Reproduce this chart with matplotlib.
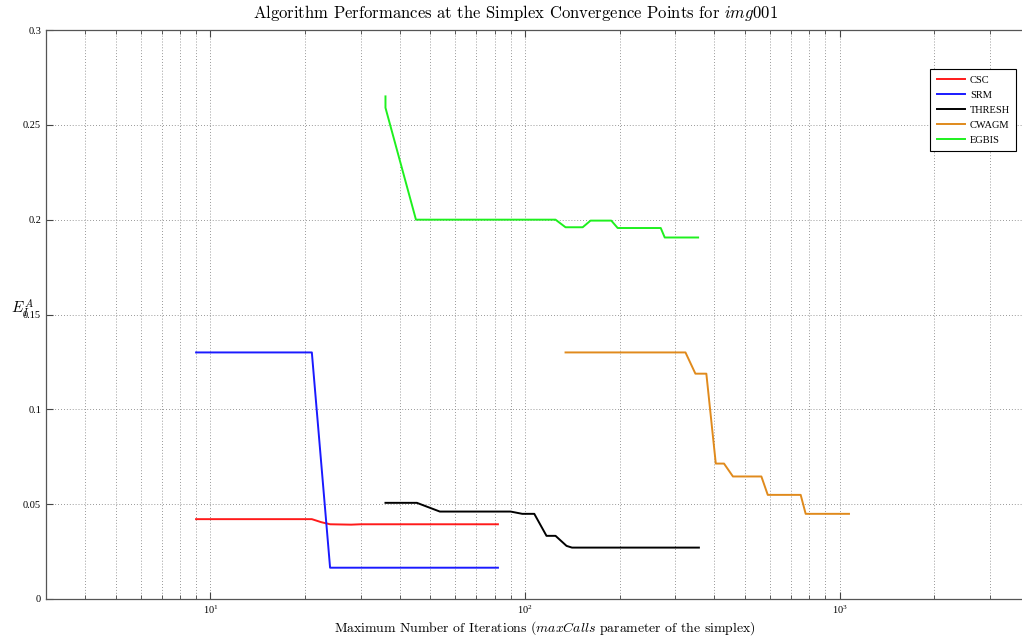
import numpy as np
import matplotlib
matplotlib.use('Agg')
import matplotlib.pyplot as plt
from matplotlib.ticker import FixedLocator, FuncFormatter, LogLocator

plt.rcParams['mathtext.fontset'] = 'cm'

# maxCalls values and E_I^A error at each convergence point
csc_x = [9, 21, 22.5, 24, 28, 30, 82]
csc_y = [0.0421, 0.0421, 0.0405, 0.0394, 0.0392, 0.0394, 0.0394]

srm_x = [9, 21, 24, 82]
srm_y = [0.130, 0.130, 0.0165, 0.0165]

thresh_x = [36, 45.3, 53.6, 90, 98, 107, 117, 125, 135.5, 141, 357]
thresh_y = [0.0507, 0.0507, 0.0461, 0.0461, 0.0449, 0.0449, 0.0333, 0.0333,
            0.0280, 0.0271, 0.0271]

cwagm_x = [134.5, 323.6, 348, 377, 404, 429, 458, 564, 591, 752, 780, 1071]
cwagm_y = [0.130, 0.130, 0.1188, 0.1188, 0.0714, 0.0714, 0.0646, 0.0646,
           0.0549, 0.0549, 0.0449, 0.0449]

egbis_x = [36, 36, 45, 125, 134.5, 152.5, 161.5, 188, 197, 270, 278, 355]
egbis_y = [0.265, 0.259, 0.200, 0.200, 0.196, 0.196, 0.1995, 0.1995,
           0.1956, 0.1956, 0.1906, 0.1906]

names = ['CSC', 'SRM', 'THRESH', 'CWAGM', 'EGBIS']
colors = ['#ff1a1a', '#1a1aff', '#000000', '#e08a1c', '#1ef01e']
y_ticks = [0, 0.05, 0.1, 0.15, 0.2, 0.25, 0.3]

fig = plt.figure(figsize=(10.22, 6.41), dpi=100)
ax = fig.add_axes([46 / 1022, 42 / 641, 983 / 1022, 569 / 641])

series = [(csc_x, csc_y), (srm_x, srm_y), (thresh_x, thresh_y),
          (cwagm_x, cwagm_y), (egbis_x, egbis_y)]
for (xs, ys), name, c in zip(series, names, colors):
    ax.semilogx(xs, ys, '-', color=c, linewidth=1.4, label=name)

ax.set_xlim(3, 4000)
ax.set_ylim(0, 0.3)

ax.yaxis.set_major_locator(FixedLocator(y_ticks))
ax.yaxis.set_major_formatter(FuncFormatter(lambda v, p: '%g' % v))
ax.xaxis.set_major_locator(LogLocator(base=10))
ax.xaxis.set_minor_locator(LogLocator(base=10, subs=np.arange(2, 10)))

ax.grid(True, which='major', axis='both', linestyle=(0, (1, 2.5)),
        color='#777777', linewidth=0.6)
ax.grid(True, which='minor', axis='x', linestyle=(0, (1, 2.5)),
        color='#777777', linewidth=0.6)

ax.tick_params(which='both', direction='in', top=True, right=True,
               colors='#444444', labelcolor='black', labelsize=7.5)
ax.tick_params(which='major', length=5)
ax.tick_params(which='minor', length=3)
for lbl in ax.get_yticklabels() + ax.get_xticklabels():
    lbl.set_family('Liberation Serif')
for s in ax.spines.values():
    s.set_color('#555555')
    s.set_linewidth(0.9)

fig.text(516 / 1022, 1 - 13 / 641,
         r'Algorithm Performances at the Simplex Convergence Points for $\mathit{img001}$',
         family='cmr10', fontsize=12, ha='center', va='center')
ax.set_xlabel(r'Maximum Number of Iterations ($\mathit{maxCalls}$ parameter of the simplex)',
              family='cmr10', fontsize=9.9)
ax.xaxis.set_label_coords((545 - 46) / 983, -0.036)
ax.text(-0.024, 0.51, r'$E_I^A$', transform=ax.transAxes, ha='center',
        va='center', fontsize=11)

leg = ax.legend(loc='upper right', bbox_to_anchor=(0.987, 0.931),
                borderaxespad=0,
                prop={'family': 'Liberation Serif', 'size': 7.5},
                fancybox=False, framealpha=1, edgecolor='black',
                handlelength=2.7, borderpad=0.6, labelspacing=0.55,
                handletextpad=0.5)
leg.get_frame().set_linewidth(0.8)

fig.savefig('out.png', dpi=100)
